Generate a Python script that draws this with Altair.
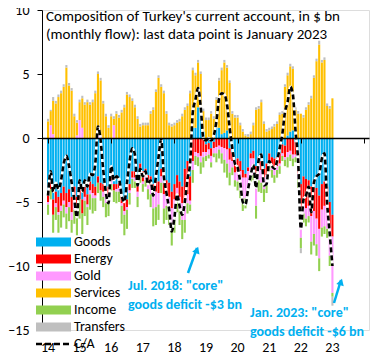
import altair as alt
import pandas as pd

# ---------------- data (monthly, $ bn), Jan 2014 .. Jan 2023 ----------------
months = pd.date_range("2014-01-01", "2023-01-01", freq="MS").strftime("%Y-%m-%d").tolist()

goods = [
    -4.2, -3.3, -4.8, -4.2, -4.6, -4.3, -3.8, -4.3, -4.0, -4.6, -3.8, -4.6,
    -3.8, -4.8, -3.8, -4.4, -3.4, -3.6, -3.8, -3.0, -3.5, -3.6, -4.0, -3.8,
    -2.8, -3.6, -3.6, -3.5, -4.5, -5.0, -4.8, -3.6, -2.6, -2.6, -3.5, -2.0,
    -2.6, -2.4, -2.9, -3.0, -3.6, -3.4, -3.4, -2.4, -3.5, -3.3, -3.5, -4.2,
    -3.6, -2.9, -3.4, -3.8, -2.4, -1.8, -3.0, 0.8, 0.8, 2.4, 2.0, 0.5,
    -0.5, -0.4, -0.8, -0.3, 0.8, 0.8, 0.3, 0.4, 0.6, -0.8, -1.1, -2.0,
    -1.6, -1.8, -2.5, -2.8, -2.3, -1.2, -1.0, -2.2, -1.5, -1.8, -2.4, -2.0,
    -1.2, -1.5, -1.6, -1.5, -1.2, -0.5, -0.6, 0.2, 0.5, 0.6, -0.3, -1.2,
    -3.6, -3.0, -3.2, -3.3, -3.8, -3.4, -3.9, -4.5, -3.6, -3.4, -3.8, -5.0,
    -6.0,
]
energy = [
    -0.8, -0.7, -1.2, -0.9, -1.2, -1.0, -1.1, -1.1, -1.0, -1.2, -1.1, -1.3,
    -1.0, -1.1, -0.8, -0.8, -0.7, -0.7, -0.7, -0.5, -0.6, -0.6, -0.6, -0.7,
    -0.5, -0.5, -0.4, -0.4, -0.6, -0.7, -0.6, -0.5, -0.5, -0.5, -0.7, -0.6,
    -0.8, -0.6, -0.7, -0.7, -0.8, -0.8, -0.9, -0.6, -0.9, -1.0, -1.1, -1.3,
    -1.2, -1.0, -1.2, -1.3, -2.8, -2.6, -1.9, -1.8, -1.1, -1.2, -1.4, -1.1,
    -0.6, -0.5, -0.6, -0.5, -0.7, -0.6, -0.7, -0.8, -0.9, -0.9, -0.7, -0.7,
    -1.0, -0.8, -0.6, -0.3, -0.3, -0.4, -0.6, -0.6, -0.6, -0.7, -0.7, -0.9,
    -0.6, -0.6, -0.8, -0.7, -0.8, -0.7, -0.9, -1.1, -1.0, -1.3, -1.0, -1.6,
    -2.4, -2.0, -2.3, -2.0, -2.3, -2.3, -2.4, -2.6, -2.0, -1.9, -1.8, -2.0,
    -1.7,
]
gold = [
    -0.2, 1.0, 0.3, -0.3, -0.2, -0.4, -0.3, -0.5, -0.4, -0.6, -0.7, 0.2,
    1.4, 0.8, -0.3, -0.2, -0.3, -0.4, -0.2, 0.6, 0.2, -0.4, -0.5, -0.3,
    -0.3, 1.0, -0.2, -0.3, -0.2, -0.3, -0.2, -0.2, -0.1, -0.3, -0.4, -0.3,
    -0.2, -0.3, -0.4, -0.7, -1.1, -1.2, -0.9, -0.5, -1.1, -1.0, -1.1, -1.2,
    -1.4, -0.9, -1.0, -1.3, -1.2, -0.7, -0.3, -0.7, -0.3, -0.3, -0.5, -0.4,
    -0.3, -0.4, -0.5, -0.4, -0.5, -0.3, -0.5, -0.9, -1.1, -1.0, -0.5, -0.6,
    -0.8, -1.5, -1.8, -1.6, -1.2, -1.3, -1.3, -2.5, -1.2, -1.0, -0.9, -0.6,
    -0.3, -0.4, -0.5, -0.3, -0.2, -0.2, -0.2, -0.4, -0.3, -0.3, -0.2, -0.4,
    -1.8, -0.9, -0.8, -0.8, -2.0, -1.8, -2.0, -2.3, -1.4, -1.6, -1.5, -2.2,
    -4.4,
]
services = [
    1.3, 1.1, 2.6, 2.7, 3.2, 3.5, 4.0, 5.5, 4.1, 3.7, 1.7, 1.0,
    1.4, 2.3, 2.6, 2.8, 2.6, 2.8, 3.5, 4.4, 4.3, 2.7, 1.7, 0.8,
    1.7, 0.5, 1.9, 1.6, 2.0, 2.4, 3.4, 3.2, 2.9, 2.4, 1.5, 0.9,
    1.0, 1.0, 1.0, 1.9, 2.2, 3.6, 4.7, 4.0, 3.5, 1.9, 1.0, 0.9,
    1.0, 1.2, 1.3, 1.7, 2.2, 2.5, 3.5, 4.5, 4.1, 3.5, 3.0, 1.6,
    1.4, 1.4, 1.9, 1.5, 2.2, 3.7, 5.0, 5.5, 4.9, 4.3, 1.9, 1.6,
    1.6, 1.0, 0.5, 0.2, 0.1, 0.3, 1.0, 2.2, 2.3, 2.8, 1.1, 0.5,
    0.6, 0.7, 0.9, 1.1, 1.8, 1.9, 4.0, 4.7, 5.1, 4.8, 2.2, 1.9,
    1.9, 1.6, 2.2, 2.6, 3.1, 4.7, 6.0, 7.3, 5.9, 6.1, 2.5, 2.3,
    3.1,
]
income = [
    -0.8, -0.8, -1.4, -1.0, -1.4, -1.3, -1.0, -1.2, -1.1, -1.0, -1.1, -1.7,
    -1.5, -1.6, -1.2, -1.4, -1.2, -1.2, -1.0, -0.8, -0.8, -0.8, -1.1, -1.3,
    -0.5, -0.9, -0.9, -0.8, -1.4, -1.6, -1.5, -0.9, -0.7, -0.5, -0.8, -0.6,
    -0.6, -0.5, -0.8, -1.0, -1.4, -1.4, -1.2, -0.8, -1.2, -1.1, -1.1, -1.7,
    -1.2, -1.0, -1.2, -1.5, -1.0, -0.8, -0.5, -1.0, -0.7, -0.7, -0.9, -0.8,
    -0.4, -0.3, -0.4, -0.3, -0.7, -0.7, -0.8, -1.0, -1.1, -1.0, -0.6, -0.5,
    -0.7, -0.6, -0.8, -0.8, -0.5, -0.5, -0.4, -1.0, -0.9, -0.8, -1.0, -0.8,
    -0.5, -0.6, -0.6, -0.6, -0.6, -0.4, -0.5, -0.8, -0.5, -0.6, -0.4, -0.7,
    -0.8, -0.7, -0.6, -0.5, -1.0, -0.9, -0.9, -1.0, -0.7, -0.6, -0.7, -0.8,
    -0.3,
]
transfers = [
    0.2, 0.1, 0.3, 0.2, 0.2, 0.2, 0.2, 0.2, 0.2, 0.2, 0.2, 0.2,
    0.2, 0.2, 0.2, 0.2, 0.2, 0.2, 0.2, 0.2, 0.2, 0.2, 0.2, 0.2,
    0.2, 0.2, 0.2, 0.2, 0.2, 0.2, 0.2, 0.2, 0.2, 0.2, 0.2, 0.2,
    0.2, 0.2, 0.2, 0.2, 0.2, 0.2, 0.2, 0.2, 0.2, 0.2, 0.2, 0.2,
    0.2, 0.2, 0.2, 0.2, 0.2, 0.2, 0.2, 0.2, 0.2, 0.2, 0.2, 0.2,
    0.2, 0.2, 0.2, 0.2, 0.2, 0.2, 0.2, 0.2, 0.2, 0.2, 0.2, 0.2,
    0.2, 0.2, 0.2, 0.1, 0.2, 0.2, 0.2, 0.2, 0.2, 0.2, 0.2, 0.2,
    0.2, 0.2, 0.2, 0.2, 0.2, 0.2, 0.2, 0.2, 0.2, 0.2, 0.2, 0.2,
    -0.4, 0.2, 0.2, 0.2, 0.2, 0.2, 0.2, 0.3, 0.2, 0.2, 0.2, 0.2,
    -0.7,
]
current_account = [
    -4.5, -2.6, -4.2, -3.5, -4.0, -3.3, -2.0, -1.4, -2.2, -3.5, -4.8, -6.2,
    -3.3, -4.2, -3.3, -3.8, -2.8, -2.9, -2.0, 0.9, -0.2, -2.5, -4.3, -5.1,
    -2.2, -3.3, -3.0, -3.2, -4.5, -5.0, -3.5, -1.8, -0.8, -1.3, -3.7, -2.4,
    -3.0, -2.6, -3.6, -3.3, -4.5, -3.0, -1.5, -0.1, -3.0, -4.3, -5.6, -7.3,
    -6.2, -4.4, -5.3, -6.0, -5.0, -3.2, -2.0, 2.0, 3.0, 3.9, 2.4, 0.0,
    -0.2, 0.0, -0.2, 0.2, 1.3, 3.1, 3.5, 3.4, 2.6, 0.8, -0.8, -2.0,
    -2.3, -3.5, -5.0, -5.2, -4.0, -2.9, -2.1, -3.9, -1.7, -1.3, -3.7, -3.6,
    -1.8, -2.2, -2.4, -1.8, -0.8, 0.3, 2.0, 2.8, 4.0, 3.4, 0.5, -1.8,
    -7.1, -4.8, -4.5, -3.8, -5.8, -3.5, -3.0, -2.8, -1.6, -1.2, -5.1, -7.5,
    -10.0,
]

components = ["Goods", "Energy", "Gold", "Services", "Income", "Transfers"]
colors = ["#00B0F0", "#FF0000", "#FF99FF", "#FFC000", "#92D050", "#BFBFBF"]
legend_labels = components + ["C/A"]
tick_years = list(range(2014, 2025))
label_years = list(range(2014, 2024))
year_labels = ["14", "15", "16", "17", "18", "19", "20", "21", "22", "23"]

title_lines = ["Composition of Turkey's current account, in $ bn",
               "(monthly flow): last data point is January 2023"]
note_2018 = ['Jul. 2018:  "core"', "goods deficit -$3 bn"]
note_2023 = ['Jan. 2023:  "core"', "goods deficit -$6 bn"]

# ---------------- tables ----------------
series = [goods, energy, gold, services, income, transfers]
rows = []
for k, (name, vals) in enumerate(zip(components, series)):
    for d, v in zip(months, vals):
        rows.append({"date": d, "component": name, "value": v, "k": k})
bars_df = pd.DataFrame(rows)
ca_df = pd.DataFrame({"date": months, "ca": current_account})
years_df = pd.DataFrame({"date": [f"{y}-01-01" for y in label_years], "lab": year_labels})

FONT = "Calibri, Carlito, Lato, sans-serif"
BLUE = "#00B0F0"

x_scale = alt.Scale(type="utc",
                    domain=[alt.DateTime(year=2013, month=12, date=20, utc=True),
                            alt.DateTime(year=2024, month=1, date=1, utc=True)])
y_scale = alt.Scale(domain=[-15, 10], nice=False)

x_axis = alt.Axis(
    orient="bottom", offset=-192,
    values=[alt.DateTime(year=y, month=1, date=1, utc=True) for y in tick_years],
    domain=True, domainColor="black", domainWidth=1.5,
    ticks=True, tickColor="black", tickSize=5, tickWidth=1,
    labels=False, grid=False, title=None, zindex=1,
)
y_axis = alt.Axis(
    values=[-15, -10, -5, 0, 5, 10], domainColor="black", domainWidth=1,
    tickColor="black", tickSize=5, labelPadding=8, labelFont=FONT,
    labelFontSize=14, labelColor="black", grid=False, title=None,
)

bars = alt.Chart(bars_df).mark_bar(size=2.1).encode(
    x=alt.X("date:T", scale=x_scale, axis=x_axis),
    y=alt.Y("value:Q", stack="zero", scale=y_scale, axis=y_axis),
    color=alt.Color("component:N", scale=alt.Scale(domain=components, range=colors), legend=None),
    order=alt.Order("k:Q", sort="ascending"),
)

ca_under = alt.Chart(ca_df).mark_line(color="white", strokeWidth=2.6, interpolate="monotone").encode(
    x=alt.X("date:T", scale=x_scale), y=alt.Y("ca:Q", scale=y_scale))
ca_line = alt.Chart(ca_df).mark_line(color="black", strokeWidth=2.6, strokeDash=[5, 3],
                                     interpolate="monotone").encode(
    x=alt.X("date:T", scale=x_scale), y=alt.Y("ca:Q", scale=y_scale))

year_text = alt.Chart(years_df).mark_text(
    align="center", baseline="middle", font=FONT, fontSize=14, color="black").encode(
    x=alt.X("date:T", scale=x_scale), y=alt.value(338), text="lab:N")

one = pd.DataFrame({"a": [0]})


def text_layer(txt, x, y, color="black", bold=False, size=14):
    return alt.Chart(one).mark_text(
        align="left", baseline="middle", font=FONT, fontSize=size,
        fontWeight="bold" if bold else "normal", color=color,
    ).encode(x=alt.value(x), y=alt.value(y), text=alt.value(txt))


titles = [text_layer(title_lines[0], 4, 6, size=15), text_layer(title_lines[1], 4, 24, size=15)]
notes = [
    text_layer(note_2018[0], 86, 276, BLUE, True), text_layer(note_2018[1], 86, 295, BLUE, True),
    text_layer(note_2023[0], 208, 303, BLUE, True), text_layer(note_2023[1], 208, 322, BLUE, True),
]


def arrow(x1, y1, x2, y2, ang):
    shaft = alt.Chart(one).mark_rule(color=BLUE, strokeWidth=2.5).encode(
        x=alt.value(x1), y=alt.value(y1), x2=alt.value(x2), y2=alt.value(y2))
    head = alt.Chart(one).mark_point(shape="triangle-up", filled=True, color=BLUE, size=60,
                                     angle=ang, opacity=1).encode(
        x=alt.value(x2), y=alt.value(y2 + 2))
    return [shaft, head]


arrows = arrow(146, 263, 155, 238, 20) + arrow(292, 293, 299, 270, 17)

main = alt.layer(bars, ca_under, ca_line, year_text, *titles, *notes, *arrows)

# legend drawn in the plot (own y scale)
leg_df = pd.DataFrame({"label": legend_labels, "color": colors + ["black"]})
leg_y = alt.Y("label:N", scale=alt.Scale(type="point", domain=legend_labels, range=[232, 334], padding=0),
              axis=None)
leg_sw = alt.Chart(leg_df).transform_filter(alt.datum.label != "C/A").mark_rule(
    strokeWidth=9, strokeCap="butt").encode(
    x=alt.value(-6), x2=alt.value(29), y=leg_y, color=alt.Color("color:N", scale=None))
leg_dash = alt.Chart(leg_df).transform_filter(alt.datum.label == "C/A").mark_rule(
    strokeWidth=2.5, strokeDash=[6, 3], color="black").encode(
    x=alt.value(-6), x2=alt.value(29), y=leg_y)
leg_txt = alt.Chart(leg_df).mark_text(align="left", baseline="middle", font=FONT, fontSize=14,
                                      color="black").encode(
    x=alt.value(32), y=leg_y, text="label:N")
legend = alt.layer(leg_sw, leg_dash, leg_txt)

chart = alt.layer(main, legend).resolve_scale(y="independent", color="independent").properties(
    width=327, height=320,
    padding={"left": 34, "top": 2, "right": 7, "bottom": 28},
    autosize=alt.AutoSizeParams(type="none"),
).configure_view(stroke=None).configure(background="white")

chart.save("out.html", embed_options={"renderer": "svg", "actions": False})
